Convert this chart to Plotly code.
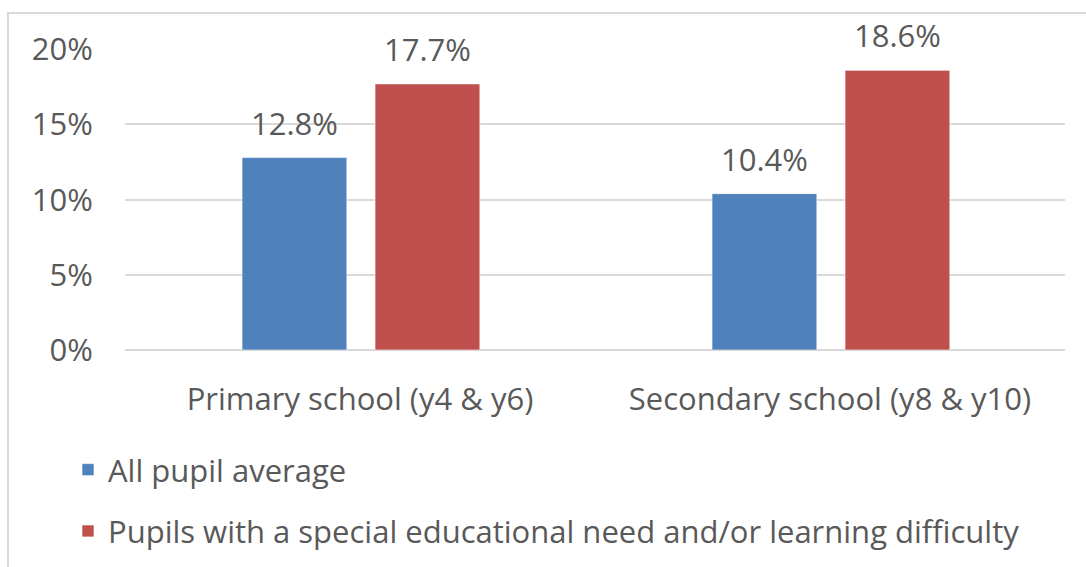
import plotly.graph_objects as go

categories = ["Primary school (y4 & y6)", "Secondary school (y8 & y10)"]
series_names = ["All pupil average", "Pupils with a special educational need and/or learning difficulty"]
all_pupil = [12.8, 10.4]
sen_pupils = [17.7, 18.6]
y_ticks = [0, 5, 10, 15, 20]
y_tick_labels = ["0%", "5%", "10%", "15%", "20%"]

colors = ["#4F81BD", "#C0504D"]
FONT = "Open Sans"
TXT = "#595959"
FS = 31

bar_w = 0.223
offsets = [-0.251, 0.032]
series = [all_pupil, sen_pupils]

fig = go.Figure()
for i, (name, vals) in enumerate(zip(series_names, series)):
    fig.add_trace(go.Bar(
        x=list(range(len(categories))), y=vals, name=name,
        width=bar_w, offset=offsets[i],
        marker=dict(color=colors[i], line=dict(color="rgba(255,255,255,0.6)", width=1)),
        legendgroup=f"g{i}",
    ))

annotations = []
for i, vals in enumerate(series):
    for j, v in enumerate(vals):
        annotations.append(dict(
            x=j + offsets[i] + bar_w / 2, y=v, xref="x", yref="y",
            text=f"{v:.1f}%", showarrow=False, yanchor="bottom",
            yshift=12, font=dict(family=FONT, size=FS, color=TXT),
        ))

L, R, T, B = 125, 21, 49, 217
W, H = 1086, 567
pw, ph = W - L - R, H - T - B

fig.update_layout(
    width=W, height=H,
    margin=dict(l=L, r=R, t=T, b=B, autoexpand=False),
    paper_bgcolor="white", plot_bgcolor="white",
    barmode="overlay",
    font=dict(family=FONT, size=FS, color=TXT),
    xaxis=dict(
        tickmode="array", tickvals=list(range(len(categories))), ticktext=categories,
        range=[-0.5, 1.5], showgrid=False, zeroline=False, showline=False,
        ticks="outside", ticklen=22, tickcolor="rgba(0,0,0,0)", automargin=False,
        tickfont=dict(family=FONT, size=FS, color=TXT),
    ),
    yaxis=dict(
        range=[0, 20.02], tickmode="array", tickvals=y_ticks, ticktext=y_tick_labels,
        showgrid=True, gridcolor="#D9D9D9", gridwidth=2, zeroline=True,
        zerolinecolor="#D9D9D9", zerolinewidth=2, showline=False,
        ticks="outside", ticklen=25, tickcolor="rgba(0,0,0,0)", automargin=False,
        tickfont=dict(family=FONT, size=FS, color=TXT),
    ),
    showlegend=True,
    legend=dict(
        x=(68 - L) / pw, y=(H - B - 443) / ph, xanchor="left", yanchor="top",
        orientation="v", traceorder="grouped", tracegroupgap=18,
        font=dict(family=FONT, size=FS, color=TXT), bgcolor="rgba(0,0,0,0)",
    ),
    annotations=annotations,
    shapes=[dict(
        type="rect", xref="paper", yref="paper",
        x0=(8 - L) / pw, x1=(W + 5 - L) / pw,
        y0=(H - B - (H + 5)) / ph, y1=(H - B - 13) / ph,
        line=dict(color="#D9D9D9", width=2), fillcolor="rgba(0,0,0,0)", layer="below",
    )],
)

fig.write_html("out.html")
